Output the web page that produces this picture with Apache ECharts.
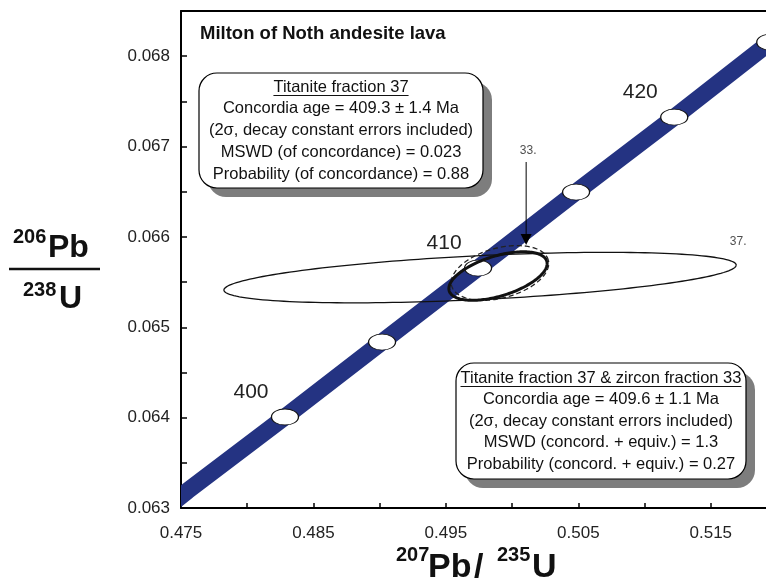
<!DOCTYPE html>
<html>
<head>
<meta charset="utf-8">
<title>Milton of Noth andesite lava – concordia diagram</title>
<script src="https://cdn.jsdelivr.net/npm/echarts@6/dist/echarts.min.js"></script>
<style>
  html, body { margin: 0; padding: 0; background: #fff; }
  #chart { width: 766px; height: 580px; }
</style>
</head>
<body>
<div id="chart"></div>
<script>
// Concordia curve, sampled every 5 Ma (207Pb/235U, 206Pb/238U)
const concordiaAges = [390, 395, 400, 405, 410, 415, 420, 425, 430];
const concordiaX = [0.4684, 0.4755, 0.48285, 0.49018, 0.49743, 0.50483, 0.51224, 0.51949, 0.5269];
const concordiaY = [0.06236, 0.06319, 0.064007, 0.064836, 0.065655, 0.066496, 0.067325, 0.068155, 0.06899];

// age markers drawn on the curve, and the ones that carry a label
const markerAges = [400, 405, 410, 415, 420, 425];
const labelledAges = [400, 410, 420];

// error ellipses: [centre x, centre y, half-axis u (x, y), conjugate half-axis v (x, y)]
const titanite37 = [0.49758, 0.065550, 0.01934, 0.000138, 0.0, 0.000243];
const zircon33 = [0.498935, 0.065567, 0.003682, 0.000165, -0.000442, 0.000212];
const zircon33Decay = [0.499086, 0.065601, 0.003647, 0.000143, -0.000489, 0.000267];

// fraction labels and the pointer to fraction 33
const fractionNames = ['33.', '37.'];
const fractionX = [0.50121, 0.51707];
const fractionY = [0.066951, 0.065944];
const arrowX = 0.50106;
const arrowY = [0.066829, 0.065971];

// axis tick labels
const xTickLabels = ['0.475', '0.485', '0.495', '0.505', '0.515'];
const yTickLabels = ['0.063', '0.064', '0.065', '0.066', '0.067', '0.068'];

// result boxes
const titleText = 'Milton of Noth andesite lava';
const box1Lines = [
  'Titanite fraction 37',
  'Concordia age = 409.3 \u00b1 1.4 Ma',
  '(2\u03c3, decay constant errors included)',
  'MSWD (of concordance) = 0.023',
  'Probability (of concordance) = 0.88'
];
const box2Lines = [
  'Titanite fraction 37 & zircon fraction 33',
  'Concordia age = 409.6 \u00b1 1.1 Ma',
  '(2\u03c3, decay constant errors included)',
  'MSWD (concord. + equiv.) = 1.3',
  'Probability (concord. + equiv.) = 0.27'
];

const FONT = '"Liberation Sans", Arial, Helvetica, sans-serif';
const BAND = '#243382';

function tickFormatter(labels) {
  return function (v) {
    for (const s of labels) {
      if (Math.abs(parseFloat(s) - v) < 1e-9) return s;
    }
    return '';
  };
}

const measureCtx = document.createElement('canvas').getContext('2d');
function textWidth(t, size, weight) {
  measureCtx.font = (weight || 'normal') + ' ' + size + 'px ' + FONT;
  return measureCtx.measureText(t).width;
}

function text(t, x, y, size, opt) {
  opt = opt || {};
  return {
    type: 'text', x: x, y: y, z: 100, silent: true,
    style: {
      text: t, fontSize: size, fontWeight: opt.weight || 'normal', fontFamily: FONT,
      fill: opt.color || '#111',
      align: opt.align || 'left', textAlign: opt.align || 'left',
      verticalAlign: 'middle', textVerticalAlign: 'middle'
    }
  };
}

function resultBox(x, y, w, h, lines, lineYs) {
  const cx = x + w / 2;
  const size = 16.5;
  const els = [
    { type: 'rect', z: 90, silent: true, shape: { x: x + 9, y: y + 9, width: w, height: h, r: 18 },
      style: { fill: '#7d7d7d' } },
    { type: 'rect', z: 91, silent: true, shape: { x: x, y: y, width: w, height: h, r: 18 },
      style: { fill: '#fff', stroke: '#000', lineWidth: 1.2 } }
  ];
  lines.forEach((t, i) => els.push(text(t, cx, lineYs[i], size, { align: 'center' })));
  const uw = textWidth(lines[0], size);
  els.push({ type: 'line', z: 100, silent: true,
    shape: { x1: cx - uw / 2, y1: lineYs[0] + 8.5, x2: cx + uw / 2, y2: lineYs[0] + 8.5 },
    style: { stroke: '#111', lineWidth: 1 } });
  return els;
}

// concordia band: a thick polyline through the sampled curve, clipped to the plot area
function renderBand(params, api) {
  const pts = concordiaX.map((x, i) => api.coord([x, concordiaY[i]]));
  return {
    type: 'polyline',
    shape: { points: pts },
    style: { fill: null, stroke: BAND, lineWidth: 17, lineCap: 'butt', lineJoin: 'round' }
  };
}

function ellipseRenderer(stroke, width, dash) {
  return function (params, api) {
    const cx = api.value(0), cy = api.value(1);
    const ux = api.value(2), uy = api.value(3), vx = api.value(4), vy = api.value(5);
    const pts = [];
    const n = 180;
    for (let k = 0; k <= n; k++) {
      const t = (k / n) * Math.PI * 2;
      pts.push(api.coord([cx + ux * Math.cos(t) + vx * Math.sin(t), cy + uy * Math.cos(t) + vy * Math.sin(t)]));
    }
    return {
      type: 'polyline',
      shape: { points: pts },
      style: { fill: null, stroke: stroke, lineWidth: width, lineDash: dash || null }
    };
  };
}

function ellipseSeries(values, stroke, width, dash, z) {
  return {
    type: 'custom', silent: true, z: z, clip: true,
    dimensions: ['x', 'y', 'ux', 'uy', 'vx', 'vy'],
    encode: { x: 0, y: 1 },
    data: [values],
    renderItem: ellipseRenderer(stroke, width, dash)
  };
}

const chart = echarts.init(document.getElementById('chart'));

const graphics = [
  text(titleText, 200, 34, 18.5, { weight: 'bold', color: '#111' }),
  // y-axis title as a stacked ratio
  text('206', 13, 237, 20, { weight: 'bold' }),
  text('Pb', 48, 248, 32, { weight: 'bold' }),
  { type: 'line', z: 100, silent: true, shape: { x1: 9, y1: 269, x2: 100, y2: 269 },
    style: { stroke: '#111', lineWidth: 2.5 } },
  text('238', 23, 290, 20, { weight: 'bold' }),
  text('U', 59, 299, 32, { weight: 'bold' }),
  // x-axis title
  text('207', 396, 555, 20, { weight: 'bold' }),
  text('Pb', 428, 568, 34, { weight: 'bold' }),
  text('/', 474, 568, 34, { weight: 'bold' }),
  text('235', 497, 555, 20, { weight: 'bold' }),
  text('U', 532, 568, 34, { weight: 'bold' })
].concat(
  resultBox(199, 73, 284, 115, box1Lines, [87, 108.5, 130, 152, 174]),
  resultBox(456, 363, 290, 116, box2Lines, [378, 399.5, 421, 442.5, 464])
);

const option = {
  animation: false,
  backgroundColor: '#fff',
  grid: { left: 181, top: 11, width: 596, height: 497, containLabel: false, outerBoundsMode: 'none' },
  xAxis: [{
    type: 'value', min: 0.475, max: 0.52, interval: 0.005, position: 'bottom',
    axisLine: { show: true, onZero: false, lineStyle: { color: '#000', width: 2 } },
    axisTick: { show: true, inside: true, length: 5, lineStyle: { color: '#000', width: 1.5 } },
    axisLabel: { formatter: tickFormatter(xTickLabels), fontSize: 17, color: '#222', fontFamily: FONT, margin: 17 },
    splitLine: { show: false }
  }, {
    type: 'value', min: 0.475, max: 0.52, position: 'top',
    axisLine: { show: true, onZero: false, lineStyle: { color: '#000', width: 2 } },
    axisTick: { show: false }, axisLabel: { show: false }, splitLine: { show: false }
  }],
  yAxis: [{
    type: 'value', min: 0.063, max: 0.0685, interval: 0.0005,
    axisLine: { show: true, onZero: false, lineStyle: { color: '#000', width: 2 } },
    axisTick: { show: true, inside: true, length: 6, lineStyle: { color: '#000', width: 1.5 } },
    axisLabel: { formatter: tickFormatter(yTickLabels), fontSize: 17, color: '#222', fontFamily: FONT, margin: 11 },
    splitLine: { show: false }
  }],
  series: [
    {
      type: 'custom', name: 'Concordia', silent: true, z: 1, clip: true,
      dimensions: ['x', 'y'], encode: { x: 0, y: 1 },
      data: [[concordiaX[0], concordiaY[0]]],
      renderItem: renderBand
    },
    {
      type: 'scatter', name: 'Ages', silent: true, z: 3,
      data: markerAges.map(age => {
        const i = concordiaAges.indexOf(age);
        return { value: [concordiaX[i], concordiaY[i]], name: String(age),
                 label: { show: labelledAges.indexOf(age) >= 0 } };
      }),
      symbol: 'circle', symbolSize: [27, 16],
      itemStyle: { color: '#fff', borderColor: '#111', borderWidth: 1, opacity: 1 },
      label: { position: 'inside', offset: [-34, -25], formatter: '{b}', fontSize: 21,
               color: '#222', fontFamily: FONT }
    },
    ellipseSeries(titanite37, '#111', 1.3, null, 4),
    ellipseSeries(zircon33Decay, '#222', 1.3, [5, 3], 5),
    ellipseSeries(zircon33, '#111', 3, null, 6),
    {
      type: 'line', name: 'Pointer', silent: true, z: 7,
      data: [[arrowX, arrowY[0]], [arrowX, arrowY[1]]],
      symbol: 'none', showSymbol: false,
      lineStyle: { color: '#000', width: 1 }
    },
    {
      type: 'scatter', name: 'Pointer head', silent: true, z: 7,
      data: [[arrowX, arrowY[1]]],
      symbol: 'triangle', symbolRotate: 180, symbolSize: [11, 11],
      itemStyle: { color: '#000', opacity: 1 }
    },
    {
      type: 'scatter', name: 'Fractions', silent: true, z: 8,
      data: fractionNames.map((n, i) => ({ value: [fractionX[i], fractionY[i]], name: n })),
      symbolSize: 1, itemStyle: { color: 'rgba(0,0,0,0)' },
      label: { show: true, position: 'inside', formatter: '{b}', fontSize: 12, color: '#222', fontFamily: FONT }
    }
  ],
  graphic: graphics
};

chart.setOption(option);
</script>
</body>
</html>
